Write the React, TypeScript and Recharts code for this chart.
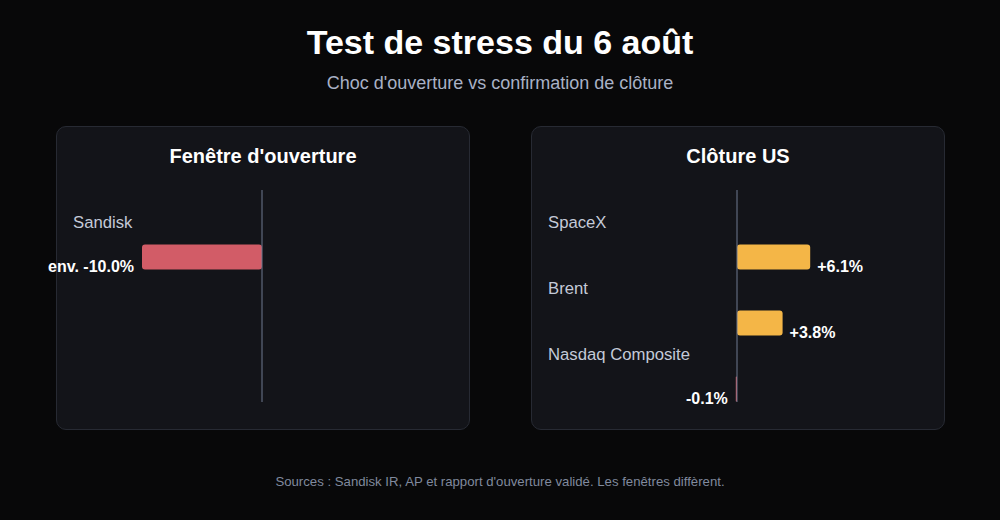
import { BarChart, Bar, XAxis, YAxis, ReferenceLine, LabelList } from 'recharts'

// Données des deux panneaux
const openingNames = ['Sandisk']
const openingValues = [-10.0]
const openingLabels = ['env. -10.0%']

const closeNames = ['SpaceX', 'Brent', 'Nasdaq Composite']
const closeValues = [6.1, 3.8, -0.1]
const closeLabels = ['+6.1%', '+3.8%', '-0.1%']

const xDomain = [-12, 12]

const FONT = '"Liberation Sans", Arial, Helvetica, sans-serif'
const NEG = '#d25c67'
const POS = '#f4b647'
const BAR_SIZE = 25
const BAR_SHIFT = 33.5 // la barre est posée sous le libellé de catégorie

const CategoryTick = ({ y, payload }: any) => (
  <text x={16} y={y - 1} dy="0.35em" fill="#c4cad8" fontSize={16.7} fontFamily={FONT} textAnchor="start">
    {payload.value}
  </text>
)

const BarShape = (props: any) => {
  const { x, y, width, height, value } = props
  const v = Array.isArray(value) ? value[1] : value
  const left = Math.min(x, x + width)
  const w = Math.abs(width)
  const r = Math.min(3, w / 2)
  return (
    <rect
      x={left}
      y={y + BAR_SHIFT}
      width={w}
      height={height}
      rx={r}
      ry={r}
      fill={v < 0 ? NEG : POS}
    />
  )
}

function Panel({
  title,
  names,
  values,
  labels,
  left,
  padBottom,
}: {
  title: string
  names: string[]
  values: number[]
  labels: string[]
  left: number
  padBottom: number
}) {
  const data = names.map((name, i) => ({ name, value: values[i], label: labels[i] }))

  const renderLabel = (p: any) => {
    const { x, y, width, height, index } = p
    const v = values[index]
    const end = v < 0 ? Math.min(x, x + width) : Math.max(x, x + width)
    const cy = y + height / 2 + BAR_SHIFT
    return (
      <text
        x={v < 0 ? end - 8 : end + 7}
        y={cy + 15}
        fill="#ffffff"
        fontSize={16}
        fontWeight="bold"
        fontFamily={FONT}
        textAnchor={v < 0 ? 'end' : 'start'}
      >
        {labels[index]}
      </text>
    )
  }

  return (
    <div
      style={{
        position: 'absolute',
        left,
        top: 126,
        width: 414,
        height: 304,
        boxSizing: 'border-box',
        background: '#131419',
        border: '1px solid #272a33',
        borderRadius: 10,
      }}
    >
      <div
        style={{
          position: 'absolute',
          left: 0,
          right: 0,
          top: 19,
          textAlign: 'center',
          fontSize: 20,
          lineHeight: '20px',
          fontWeight: 'bold',
          color: '#ffffff',
        }}
      >
        {title}
      </div>
      <div style={{ position: 'absolute', left: 0, top: 0, overflow: 'visible' }}>
        <BarChart
          width={412}
          height={302}
          data={data}
          layout="vertical"
          margin={{ top: 63, right: 63, bottom: 27, left: 0 }}
          style={{ overflow: 'visible' }}
        >
          <XAxis type="number" domain={xDomain} hide />
          <YAxis
            type="category"
            dataKey="name"
            width={61}
            axisLine={false}
            tickLine={false}
            tick={<CategoryTick />}
            padding={{ top: 0, bottom: padBottom }}
          />
          <ReferenceLine x={0} stroke="#6f7890" strokeWidth={1} />
          <Bar dataKey="value" barSize={BAR_SIZE} shape={<BarShape />} isAnimationActive={false}>
            <LabelList dataKey="label" content={renderLabel} />
          </Bar>
        </BarChart>
      </div>
    </div>
  )
}

export default function App() {
  return (
    <div
      style={{
        position: 'fixed',
        left: 0,
        top: 0,
        width: 1000,
        height: 520,
        background: '#080809',
        fontFamily: FONT,
        overflow: 'hidden',
      }}
    >
      <style>{'.recharts-wrapper, .recharts-surface { overflow: visible !important; }'}</style>
      <div
        style={{
          position: 'absolute',
          left: 0,
          right: 0,
          top: 25,
          textAlign: 'center',
          fontSize: 34,
          lineHeight: '34px',
          fontWeight: 'bold',
          color: '#ffffff',
        }}
      >
        Test de stress du 6 août
      </div>
      <div
        style={{
          position: 'absolute',
          left: 0,
          right: 0,
          top: 74,
          textAlign: 'center',
          fontSize: 18,
          lineHeight: '18px',
          color: '#a9b1c6',
        }}
      >
        Choc d'ouverture vs confirmation de clôture
      </div>

      <Panel
        title="Fenêtre d'ouverture"
        names={openingNames}
        values={openingValues}
        labels={openingLabels}
        left={56}
        padBottom={146}
      />
      <Panel
        title="Clôture US"
        names={closeNames}
        values={closeValues}
        labels={closeLabels}
        left={531}
        padBottom={14}
      />

      <div
        style={{
          position: 'absolute',
          left: 0,
          right: 0,
          top: 475,
          textAlign: 'center',
          fontSize: 13.2,
          lineHeight: '13px',
          color: '#808a9e',
        }}
      >
        Sources : Sandisk IR, AP et rapport d'ouverture validé. Les fenêtres diffèrent.
      </div>
    </div>
  )
}
